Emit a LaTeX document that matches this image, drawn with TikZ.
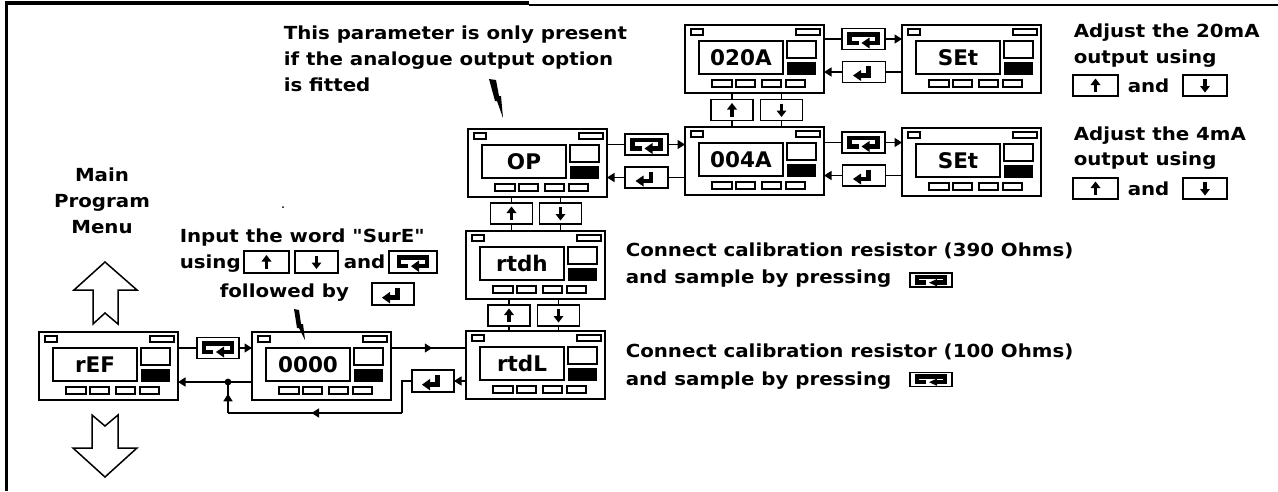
\documentclass[tikz,border=0pt]{standalone}
\usepackage{fontspec}
\newfontfamily\labfont[FakeStretch=1.1]{DejaVu Sans}
\newfontfamily\dispfamily{DejaVu Sans}
\usetikzlibrary{arrows.meta,decorations.markings}

\tikzset{
  devframe/.style={draw, rectangle, minimum width=139pt, minimum height=68pt, anchor=north west, inner sep=0pt, outer sep=0pt},
  keyb/.style={draw, rectangle, inner sep=0pt, outer sep=0pt},
  disptext/.style={anchor=base, inner sep=0pt, font=\dispfamily\bfseries\fontsize{21.5}{25}\selectfont},
  lab/.style={anchor=base west, inner sep=0pt, font=\labfont\bfseries\fontsize{18}{22}\selectfont},
  labc/.style={lab, anchor=base},
  arr/.style={-{Triangle[length=7.5pt,width=9pt]}},
  midarrow/.style={postaction={decorate}, decoration={markings, mark=at position #1 with {\arrow{Triangle[length=7.5pt,width=9pt]}}}},
  hollow/.style={draw, line width=1.5pt, line join=miter},
}

\newcommand{\devunit}[4]{%
  \node[devframe] (#1) at (#2,#3) {};
  \begin{scope}[shift={(#1.north west)}]
    \draw (6,4) rectangle (18,10);
    \draw (111,4) rectangle (135,10);
    \draw (14,16) rectangle (98,49);
    \draw (102,16) rectangle (131,33);
    \fill (102,37) rectangle (131,50);
    \foreach \a/\b in {27/47,51/70,77/96,101/120} \draw (\a,55) rectangle (\b,62);
    \node[disptext] (#1-t) at (56,40.5) {#4};
  \end{scope}}

\newcommand{\keyloop}[5]{%
  \node[keyb, minimum width=#4pt, minimum height=#5pt] (#1) at (#2,#3) {};
  \begin{scope}[shift={(#1.center)}, yscale=#5/21]
    \draw[line width=4.5pt, line join=miter] (-5,4) -- (-14,4) -- (-14,-4.5) -- (14,-4.5) -- (14,4) -- (5,4);
    \fill (-2,4) -- (6,-1.5) -- (6,9.5) -- cycle;
  \end{scope}}

\newcommand{\keyenter}[5]{%
  \node[keyb, minimum width=#4pt, minimum height=#5pt] (#1) at (#2,#3) {};
  \begin{scope}[shift={(#1.center)}, yscale=#5/21]
    \draw[line width=4.5pt, line join=miter] (4.5,-6) -- (4.5,3.5) -- (-4,3.5);
    \fill (-11,3.5) -- (-3,-2) -- (-3,9) -- cycle;
  \end{scope}}

\newcommand{\keyup}[5]{%
  \node[keyb, minimum width=#4pt, minimum height=#5pt] (#1) at (#2,#3) {};
  \begin{scope}[shift={(#1.center)}]
    \draw[line width=3.6pt] (0,6.5) -- (0,-1);
    \fill (0,-7) -- (5,-0.5) -- (-5,-0.5) -- cycle;
  \end{scope}}

\newcommand{\keydown}[5]{%
  \node[keyb, minimum width=#4pt, minimum height=#5pt] (#1) at (#2,#3) {};
  \begin{scope}[shift={(#1.center)}]
    \draw[line width=3.6pt] (0,-6.5) -- (0,1);
    \fill (0,7) -- (5,0.5) -- (-5,0.5) -- cycle;
  \end{scope}}

\begin{document}
\begin{tikzpicture}[x=1pt, y=-1pt, line width=1.5pt]
\useasboundingbox (0,0) rectangle (1278,491);

% frame
\draw[line width=4pt] (5,2.5) -- (529,2.5);
\draw[line width=2pt] (529,4.5) -- (1278,4.5);
\draw[line width=2.5pt] (6.5,2) -- (6.5,491);

% device units
\devunit{REF}{39}{332}{rEF}
\devunit{ZERO}{252}{332}{0000}
\devunit{RTDL}{466}{331}{rtdL}
\devunit{RTDH}{466}{231}{rtdh}
\devunit{OP}{468}{129}{OP}
\devunit{AFOUR}{685}{127}{004A}
\devunit{ATWENTY}{685}{25}{020A}
\devunit{SETA}{902}{25}{SEt}
\devunit{SETB}{902}{128}{SEt}

% OP <-> 004A
\keyloop{kOPa}{646.5}{144.5}{43}{21}
\keyenter{kOPb}{646.5}{177.5}{43}{21}
\draw (OP.east |- kOPa.west) -- (kOPa.west);
\draw[arr] (kOPa.east) -- (kOPa.east -| AFOUR.west);
\draw (AFOUR.west |- kOPb.east) -- (kOPb.east);
\draw[arr] (kOPb.west) -- (kOPb.west -| OP.east);

% 020A <-> SEt
\keyloop{kTa}{863.5}{39}{43}{21}
\keyenter{kTb}{864}{72}{43}{21}
\draw (ATWENTY.east |- kTa.west) -- (kTa.west);
\draw[arr] (kTa.east) -- (kTa.east -| SETA.west);
\draw (SETA.west |- kTb.east) -- (kTb.east);
\draw[arr] (kTb.west) -- (kTb.west -| ATWENTY.east);

% 004A <-> SEt
\keyloop{kFa}{863.5}{142.5}{43}{21}
\keyenter{kFb}{864}{175.5}{43}{21}
\draw (AFOUR.east |- kFa.west) -- (kFa.west);
\draw[arr] (kFa.east) -- (kFa.east -| SETB.west);
\draw (SETB.west |- kFb.east) -- (kFb.east);
\draw[arr] (kFb.west) -- (kFb.west -| AFOUR.east);

% vertical key pairs
\keyup{kV1u}{732}{110}{42}{21}
\keydown{kV1d}{781.5}{110}{42}{21}
\foreach \k in {kV1u,kV1d} {
  \draw (\k.north) -- (\k.north |- ATWENTY.south);
  \draw (\k.south) -- (\k.south |- AFOUR.north);
}
\keyup{kV2u}{511.5}{213.5}{42}{21}
\keydown{kV2d}{560.5}{213.5}{42}{21}
\foreach \k in {kV2u,kV2d} {
  \draw (\k.north) -- (\k.north |- OP.south);
  \draw (\k.south) -- (\k.south |- RTDH.north);
}
\keyup{kV3u}{509}{315.5}{42}{21}
\keydown{kV3d}{558.5}{315.5}{42}{21}
\foreach \k in {kV3u,kV3d} {
  \draw (\k.north) -- (\k.north |- RTDH.south);
  \draw (\k.south) -- (\k.south |- RTDL.north);
}

% left part
\keyloop{kRa}{218}{348}{42}{21}
\draw (REF.east |- kRa.west) -- (kRa.west);
\draw[arr] (kRa.east) -- (kRa.east -| ZERO.west);
\draw[midarrow=0.55] (ZERO.east |- kRa.east) -- (RTDL.west |- kRa.east);

\coordinate (j) at (228,382);
\coordinate (jb) at (228,413);
\coordinate (rb) at (402,413);
\keyenter{kZb}{433}{381}{42}{22}
\draw[arr] (ZERO.west |- j) -- (REF.east |- j);
\fill (j) circle (3.4pt);
\draw (kZb.west) -- (kZb.west -| rb) -- (rb);
\draw[midarrow=0.52] (rb) -- (jb);
\draw[midarrow=0.62] (jb) -- (j);
\draw[arr] (RTDL.west |- kZb.east) -- (kZb.east);

% hollow arrows
\draw[hollow] (105,262) -- (137,290) -- (118,290) -- (118,324) -- (105,313) -- (93,324) -- (93,290) -- (74,290) -- cycle;
\draw[hollow] (92,415) -- (105,426) -- (118,415) -- (118,448) -- (137,448) -- (105,477) -- (73,448) -- (92,448) -- cycle;

% pointers
\fill (489,79) -- (496,80) -- (499,96) -- (501,96) -- (503,118) -- (497,101) -- (495,101) -- cycle;
\fill (294,309) -- (299,310) -- (301,324) -- (303,324) -- (305,340) -- (299,328) -- (297,328) -- cycle;
\fill (283,207) circle (1pt);

% labels
\node[labc] (mm1) at (102,181) {Main};
\node[labc] (mm2) at (102,207) {Program};
\node[labc] (mm3) at (102,233) {Menu};

\node[lab] (tp1) at (283,39.5) {This parameter is only present};
\node[lab] (tp2) at (283,65.5) {if the analogue output option};
\node[lab] (tp3) at (283,91.5) {is fitted};

\node[lab] (in1) at (179,242) {Input the word "SurE"};
\node[lab] (in2) at (179,268) {using};
\keyup{kU1}{266.5}{262}{45}{22}
\keydown{kU2}{316.5}{262}{43}{22}
\node[lab] (in3) at (343,268) {and};
\keyloop{kU3}{413}{262}{48}{22}
\node[lab] (in4) at (219,297) {followed by};
\keyenter{kU4}{393}{294}{42}{22}

\node[lab] (c1) at (625,256) {Connect calibration resistor (390 Ohms)};
\node[lab] (c2) at (625,283) {and sample by pressing};
\keyloop{kP1}{931}{280}{42}{14}
\node[lab] (c3) at (625,357) {Connect calibration resistor (100 Ohms)};
\node[lab] (c4) at (625,385) {and sample by pressing};
\keyloop{kP2}{931}{379.5}{42}{14}

\node[lab] (a1) at (1073,37) {Adjust the 20mA};
\node[lab] (a2) at (1073,63) {output using};
\keyup{kA1}{1095.5}{85.5}{45}{21}
\node[lab] (a3) at (1127,92) {and};
\keydown{kA2}{1205}{85.5}{44}{21}

\node[lab] (b1) at (1073,140) {Adjust the 4mA};
\node[lab] (b2) at (1073,165) {output using};
\keyup{kB1}{1095.5}{188.5}{45}{21}
\node[lab] (b3) at (1127,195) {and};
\keydown{kB2}{1205}{188.5}{44}{21}
\end{tikzpicture}
\end{document}
